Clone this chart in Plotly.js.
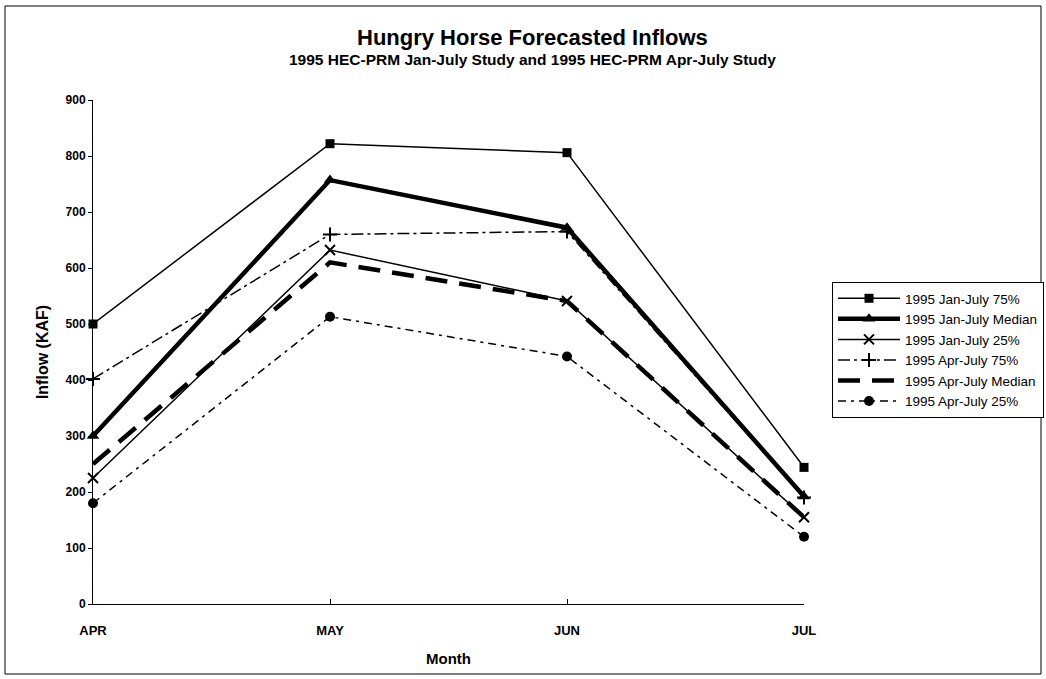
<!DOCTYPE html>
<html>
<head>
<meta charset="utf-8">
<script src="https://cdn.plot.ly/plotly-3.0.1.min.js"></script>
<style>
html,body{margin:0;padding:0;background:#fff;}
#chart{width:1046px;height:679px;}
</style>
</head>
<body>
<div id="chart"></div>
<script>
const months = ["APR", "MAY", "JUN", "JUL"];
const janJul75 = [500, 822, 806, 244];
const janJulMedian = [300, 757, 672, 192];
const janJul25 = [225, 632, 541, 155];
const aprJul75 = [402, 660, 665, 190];
const aprJulMedian = [250, 610, 541, 155];
const aprJul25 = [180, 513, 442, 120];
const seriesNames = ["1995 Jan-July 75%", "1995 Jan-July Median", "1995 Jan-July 25%",
                     "1995 Apr-July 75%", "1995 Apr-July Median", "1995 Apr-July 25%"];

const font = "Liberation Sans, Arial, sans-serif";
const traces = [
  {x: months, y: janJul75, name: seriesNames[0], mode: "lines+markers", cliponaxis: false,
   line: {color: "#000", width: 1.5}, marker: {symbol: "square", size: 9, color: "#000"}},
  {x: months, y: janJulMedian, name: seriesNames[1], mode: "lines+markers", cliponaxis: false,
   line: {color: "#000", width: 4.5}, marker: {symbol: "triangle-up", size: 11, color: "#000"}},
  {x: months, y: janJul25, name: seriesNames[2], mode: "lines+markers", cliponaxis: false,
   line: {color: "#000", width: 1.5}, marker: {symbol: "x-thin-open", size: 10, color: "#000", line: {width: 2, color: "#000"}}},
  {x: months, y: aprJul75, name: seriesNames[3], mode: "lines+markers", cliponaxis: false,
   line: {color: "#000", width: 1.5, dash: "12px,4px,3px,4px"}, marker: {symbol: "cross-thin-open", size: 10, color: "#000", line: {width: 2, color: "#000"}}},
  {x: months, y: aprJulMedian, name: seriesNames[4], mode: "lines", cliponaxis: false,
   line: {color: "#000", width: 4.5, dash: "22px,12px"}},
  {x: months, y: aprJul25, name: seriesNames[5], mode: "lines+markers", cliponaxis: false,
   line: {color: "#000", width: 1.5, dash: "8px,5px,3px,5px"}, marker: {symbol: "circle", size: 10, color: "#000"}}
];

const layout = {
  width: 1046, height: 679,
  paper_bgcolor: "#fff", plot_bgcolor: "#fff",
  margin: {l: 93, r: 242, t: 100, b: 75, autoexpand: false},
  font: {family: font, color: "#000"},
  showlegend: true,
  legend: {x: (832 - 93) / 711, y: 1 - (282 - 100) / 504, xanchor: "left", yanchor: "top",
           bordercolor: "#000", borderwidth: 1, bgcolor: "#fff",
           font: {family: font, size: 13.5, color: "#000"},
           itemwidth: 62, tracegroupgap: 0},
  xaxis: {type: "category", range: [0, 3], showgrid: false, zeroline: false,
          showline: true, linecolor: "#000", linewidth: 1,
          ticks: "inside", ticklen: 5, tickcolor: "#000", ticklabelstandoff: 14,
          tickfont: {family: font, size: 13, weight: "bold"},
          title: {text: "Month", font: {family: font, size: 15, weight: "bold"}, standoff: 16}},
  yaxis: {range: [0, 900], dtick: 100, showgrid: false, zeroline: false,
          showline: true, linecolor: "#000", linewidth: 1,
          ticks: "outside", ticklen: 4, tickcolor: "#000",
          tickfont: {family: font, size: 12, weight: "bold"},
          title: {text: "Inflow (KAF)", font: {family: font, size: 16, weight: "bold"}, standoff: 12}},
  annotations: [
    {text: "Hungry Horse Forecasted Inflows", xref: "paper", yref: "paper",
     x: (532 - 93) / 711, y: 1.0 + (100 - 37) / 504, xanchor: "center", yanchor: "middle", showarrow: false,
     font: {family: font, size: 22, weight: "bold"}},
    {text: "1995 HEC-PRM Jan-July Study and 1995 HEC-PRM Apr-July Study", xref: "paper", yref: "paper",
     x: (532 - 93) / 711, y: 1.0 + (100 - 59) / 504, xanchor: "center", yanchor: "middle", showarrow: false,
     font: {family: font, size: 15.5, weight: "bold"}}
  ],
  shapes: [
    {type: "rect", xref: "paper", yref: "paper",
     x0: -88 / 711, x1: (1041 - 93) / 711, y0: -70 / 504, y1: 1 + 94 / 504,
     line: {color: "#000", width: 1}}
  ]
};

Plotly.newPlot("chart", traces, layout, {displayModeBar: false, staticPlot: true});
</script>
</body>
</html>
